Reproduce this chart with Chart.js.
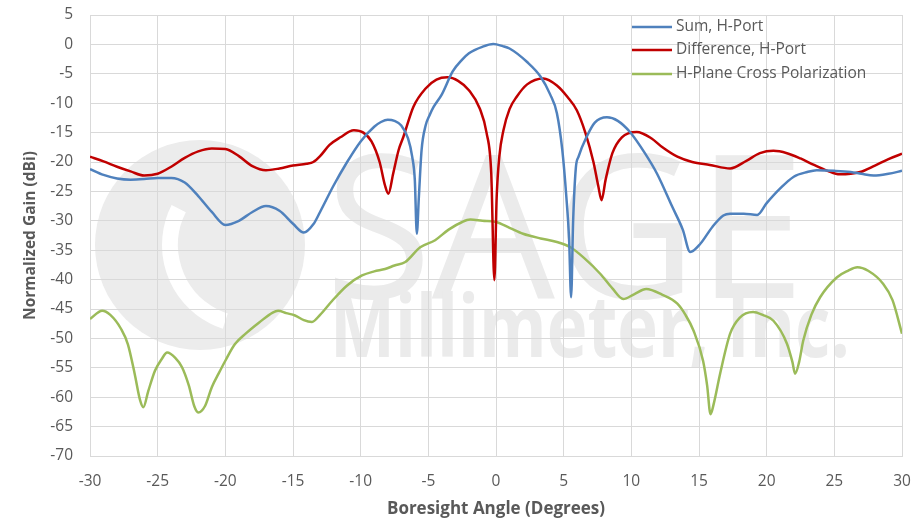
<!DOCTYPE html>
<html>
<head>
<meta charset="utf-8">
<script src="https://cdn.jsdelivr.net/npm/chart.js@4/dist/chart.umd.min.js"></script>
<style>
html,body{margin:0;padding:0;background:#fff;}
#wrap{width:923px;height:521px;position:relative;}
</style>
</head>
<body>
<div id="wrap"><canvas id="c" width="923" height="521"></canvas></div>
<script>
// ---- Data ----
const xTicks = [-30,-25,-20,-15,-10,-5,0,5,10,15,20,25,30];
const yTicks = [5,0,-5,-10,-15,-20,-25,-30,-35,-40,-45,-50,-55,-60,-65,-70];

const seriesNames = ["Sum, H-Port", "Difference, H-Port", "H-Plane Cross Polarization"];

const sumAngle = [-30,-29,-28,-27,-26,-25,-24,-23,-22,-21,-20,-19,-18,-17,-16,-15,-14.2,-13.5,-13,-12,-11,-10,-9,-8.5,-8,-7.5,-7,-6.5,-6.2,-6,-5.85,-5.7,-5.5,-5.2,-4.9,-4.6,-4,-3.2,-2.5,-2,-1,-0.2,0.5,1,2.3,3.3,4,4.5,4.9,5.2,5.4,5.55,5.7,5.9,6.1,6.7,7.3,8.2,9,9.9,11,11.9,13,13.8,14.35,15.1,16,16.8,17.3,18.3,19.3,20,21,22,23,23.7,25,26.2,27,27.9,29,30];
const sumGain  = [-21.2,-22.2,-22.8,-23,-22.9,-22.7,-22.7,-23.5,-25.8,-28.5,-30.7,-30,-28.5,-27.5,-28.3,-30.5,-32,-30.6,-28.5,-24,-20,-16.5,-14,-13.2,-12.8,-13,-13.8,-16,-19,-23,-32.2,-26,-18,-13.8,-12,-10.6,-8.5,-4.6,-2.6,-1.5,-0.4,0.05,-0.3,-0.7,-3,-5.5,-8.5,-11.7,-18,-26,-33,-43,-30,-21,-19.1,-15.7,-13.3,-12.4,-13,-14.9,-18.5,-22,-27.5,-31.5,-35.3,-33.9,-31,-29.1,-28.8,-28.8,-29,-27,-24.5,-22.5,-21.7,-21.4,-21.5,-21.7,-22,-22.3,-22,-21.5];

const diffAngle = [-30,-29,-28,-27,-26,-25,-24,-23,-22,-21,-20,-19,-18,-17,-16,-15,-14,-13.5,-13,-12.3,-11.5,-10.5,-9.8,-9.2,-8.6,-8.2,-7.95,-7.6,-7.2,-6.84,-6.1,-5.2,-4.4,-3.6,-2.8,-2,-1.2,-0.7,-0.35,-0.12,0.05,0.25,0.55,1,1.53,2.3,3.5,4.5,5.3,5.97,6.6,7.2,7.55,7.8,8.1,8.6,9.3,10.4,11.5,12.3,13.4,14.5,15.8,17.3,18.5,19.5,20.5,21.5,22.5,23.5,24.5,25.4,26.9,28,29,30];
const diffGain  = [-19.1,-19.9,-20.8,-21.6,-22.3,-22,-20.8,-19.3,-18.2,-17.7,-17.8,-19,-20.7,-21.4,-21.1,-20.6,-20.3,-20,-19,-17.1,-15.8,-14.6,-15,-16.5,-20,-24,-25.4,-22,-18,-15.7,-10.6,-7.5,-6,-5.6,-6.2,-7.8,-10.9,-15,-22,-40.1,-26,-19,-14.6,-11,-8.9,-6.8,-5.8,-7,-9,-11.2,-15,-20,-24,-26.5,-23,-18.5,-15.8,-14.9,-16,-17.5,-19.1,-20,-20.5,-21.1,-19.8,-18.5,-18.1,-18.5,-19.4,-20.5,-21.5,-22.1,-21.7,-20.6,-19.5,-18.6];

const xpolAngle = [-30,-29.1,-28.5,-27.7,-27.2,-26.7,-26.3,-26.06,-25.7,-25.2,-24.7,-24.3,-23.7,-23.2,-22.7,-22.3,-22,-21.5,-21,-20.5,-20,-19.3,-18.5,-17.5,-16.5,-16.1,-15.5,-14.85,-14.2,-13.6,-13,-12.1,-11,-9.9,-9,-8.2,-7.5,-6.7,-5.6,-4.5,-3.5,-2.5,-1.9,-1,0,1,2,3.3,4.5,5.5,6.5,7.7,8.6,9.4,10.2,11.1,12.3,13.4,14,14.6,15.3,15.6,15.85,16.1,16.56,17.3,18,19,19.7,20.5,21.5,21.9,22.1,22.4,22.7,23.3,23.95,25.2,26,26.7,27.5,28.6,29.3,30];
const xpolGain  = [-46.7,-45.3,-46,-48.4,-51,-56,-60.5,-61.7,-59,-55.5,-53.5,-52.4,-53.3,-54.9,-58,-61.5,-62.6,-61.5,-58.3,-56,-53.8,-51,-49.2,-47.3,-45.6,-45.3,-45.7,-46.1,-46.9,-47.2,-46,-43.6,-41,-39.3,-38.6,-38.2,-37.6,-37,-34.5,-33.3,-31.5,-30.2,-29.8,-30,-30.2,-31.2,-32.2,-33,-33.6,-34.5,-36.3,-39,-41.5,-43.3,-42.5,-41.6,-42.6,-44.1,-46,-48.7,-53.8,-58,-62.9,-61,-56,-49.2,-46.5,-45.5,-46,-47,-50.9,-54,-56,-54,-50.4,-46,-43,-39.6,-38.5,-37.9,-38.5,-40.7,-43.5,-49.2];

const colors = ["#4F81BD", "#C00000", "#9BBB59"];

function pts(xs, ys){ return xs.map((x,i)=>({x:x, y:ys[i]})); }

const FONT = '"Open Sans", "Liberation Sans", sans-serif';
const TXT = '#595959';

const bgPlugin = {
  id: 'bgWatermark',
  beforeDraw(chart){
    const ctx = chart.ctx;
    ctx.save();
    ctx.fillStyle = '#ffffff';
    ctx.fillRect(0,0,chart.width,chart.height);
    // faint company watermark
    ctx.fillStyle = '#ececec';
    ctx.beginPath();
    ctx.arc(200, 245, 105, 0, Math.PI*2);
    ctx.fill();
    ctx.strokeStyle = '#ffffff';
    ctx.lineWidth = 16;
    ctx.beginPath();
    ctx.arc(250, 245, 80, Math.PI*1.15, Math.PI*0.6, true);
    ctx.stroke();
    ctx.fillStyle = '#ebebeb';
    ctx.font = '200px ' + FONT;
    ctx.textBaseline = 'alphabetic';
    ctx.textAlign = 'left';
    ctx.fillText('SAGE', 325, 298, 480);
    ctx.font = 'bold 86px ' + FONT;
    ctx.fillText('Millimeter, Inc.', 330, 357, 520);
    ctx.restore();
  }
};

const legendPlugin = {
  id: 'insideLegend',
  afterDatasetsDraw(chart){
    const ctx = chart.ctx;
    ctx.save();
    ctx.font = '15.5px ' + FONT;
    ctx.textBaseline = 'middle';
    ctx.textAlign = 'left';
    const rows = [27, 50, 74];
    chart.data.datasets.forEach((ds,i)=>{
      const y = rows[i];
      ctx.strokeStyle = ds.borderColor;
      ctx.lineWidth = 2.5;
      ctx.beginPath();
      ctx.moveTo(632, y);
      ctx.lineTo(672, y);
      ctx.stroke();
      ctx.fillStyle = TXT;
      ctx.fillText(ds.label, 676, y);
    });
    ctx.restore();
  }
};

new Chart(document.getElementById('c'), {
  type: 'line',
  data: {
    datasets: [
      {label: seriesNames[0], data: pts(sumAngle, sumGain), borderColor: colors[0]},
      {label: seriesNames[1], data: pts(diffAngle, diffGain), borderColor: colors[1]},
      {label: seriesNames[2], data: pts(xpolAngle, xpolGain), borderColor: colors[2]}
    ].map(d => Object.assign(d, {borderWidth: 2.5, pointRadius: 0, fill: false, cubicInterpolationMode: 'monotone'}))
  },
  options: {
    responsive: false,
    animation: false,
    layout: {padding: {left: 0, right: 21, top: 15, bottom: 0}},
    plugins: {legend: {display: false}, tooltip: {enabled: false}},
    scales: {
      x: {
        type: 'linear', min: -30, max: 30,
        afterBuildTicks: s => { s.ticks = xTicks.map(v => ({value: v})); },
        afterFit: s => { s.height = 65; s.paddingLeft = 0; s.paddingRight = 0; },
        grid: {color: '#d9d9d9', lineWidth: 1, drawTicks: false},
        border: {color: '#d9d9d9'},
        ticks: {padding: 16, color: TXT, font: {family: FONT, size: 15.5}, maxRotation: 0},
        title: {display: true, text: 'Boresight Angle (Degrees)', color: TXT,
                font: {family: FONT, size: 17, weight: 'bold'}, padding: {top: 0, bottom: 2}}
      },
      y: {
        type: 'linear', min: -70, max: 5,
        afterBuildTicks: s => { s.ticks = yTicks.map(v => ({value: v})); },
        afterFit: s => { s.width = 90; s.paddingTop = 0; s.paddingBottom = 0; },
        grid: {color: '#d9d9d9', lineWidth: 1, drawTicks: false},
        border: {color: '#d9d9d9'},
        ticks: {padding: 17, color: TXT, font: {family: FONT, size: 15.5}},
        title: {display: true, text: 'Normalized Gain (dBi)', color: TXT,
                font: {family: FONT, size: 15.5, weight: 'bold'}, padding: {top: 21, bottom: 0}}
      }
    }
  },
  plugins: [bgPlugin, legendPlugin]
});
</script>
</body>
</html>
